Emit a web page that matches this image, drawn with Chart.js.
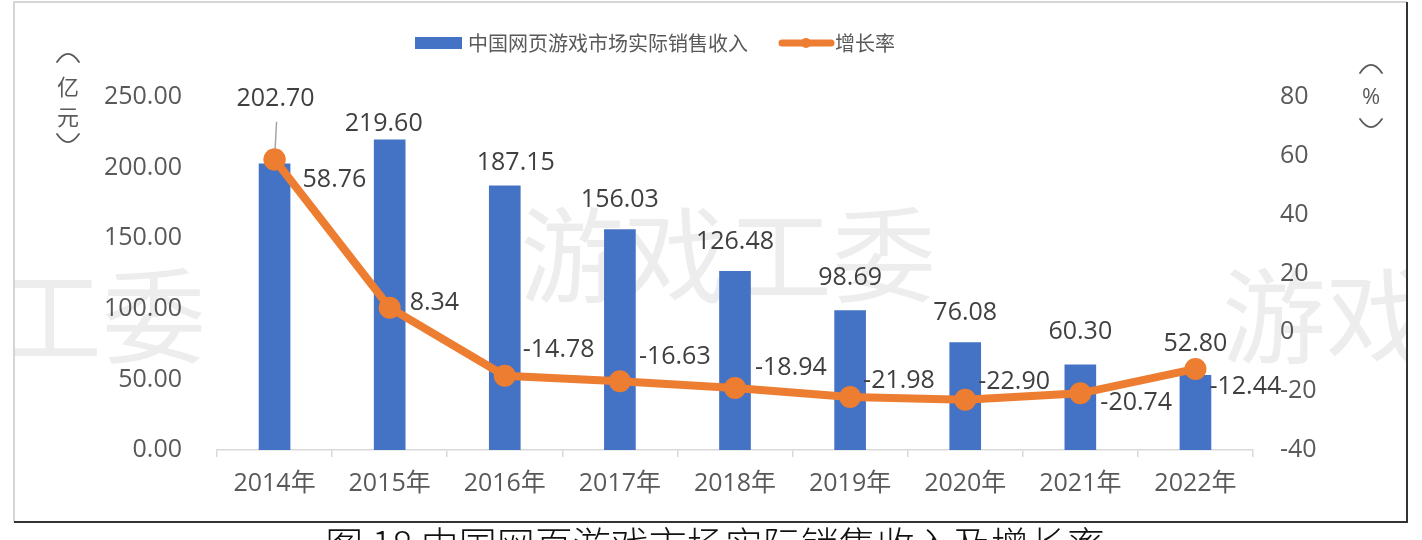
<!DOCTYPE html>
<html>
<head>
<meta charset="utf-8">
<title>中国网页游戏市场实际销售收入及增长率</title>
<script src="https://cdn.jsdelivr.net/npm/chart.js"></script>
<style>
    html, body { margin: 0; padding: 0; background: #fff; }
    #wrap { position: relative; width: 1422px; height: 540px; }
</style>
</head>
<body>
<div id="wrap"><canvas id="chart"></canvas></div>
<script>
// data
const years = ['2014年', '2015年', '2016年', '2017年', '2018年', '2019年', '2020年', '2021年', '2022年'];
const revenue = [202.70, 219.60, 187.15, 156.03, 126.48, 98.69, 76.08, 60.30, 52.80];
const growth = [58.76, 8.34, -14.78, -16.63, -18.94, -21.98, -22.90, -20.74, -12.44];
const revenueLabel = '中国网页游戏市场实际销售收入';
const growthLabel = '增长率';
const caption = '图 18 中国网页游戏市场实际销售收入及增长率';

// hand-placed label offsets (px), like the excel original
const barLabelGap = [65, 16, 23, 30, 30, 33, 30, 33, 32];
const barLabelDx = [1, -6, 11, 0, 0, 0, 0, 0, 0];
const lineLabelDx = [28, 20, 18, 19, 20, 13, 13, 20, 14];
const lineLabelDy = [20, -5, -26, -24, -20, -16, -18, 10, 18];

const BLUE = '#4472C4';
const ORANGE = '#ED7D31';
const FONT = "'Open Sans', 'Noto Sans CJK SC', sans-serif";
const CJK = "'Noto Sans CJK SC', sans-serif";

// vertical bracket arc (the ︵ / ︶ of vertical writing)
function bracket(ctx, x, yTop, up) {
    const w = 11, h = 9;
    ctx.beginPath();
    if (up) {
        ctx.moveTo(x - w, yTop + h);
        ctx.quadraticCurveTo(x, yTop - h * 0.8, x + w, yTop + h);
    } else {
        ctx.moveTo(x - w, yTop);
        ctx.quadraticCurveTo(x, yTop + h * 1.8, x + w, yTop);
    }
    ctx.stroke();
}

const decor = {
    id: 'decor',
    beforeDatasetsDraw(chart) {
        const ctx = chart.ctx;
        // watermark
        ctx.save();
        ctx.beginPath();
        ctx.rect(14, 2, 1393, 520);
        ctx.clip();
        ctx.fillStyle = 'rgba(0,0,0,0.07)';
        ctx.font = '104px ' + CJK;
        ctx.textBaseline = 'middle';
        ctx.textAlign = 'center';
        ctx.fillText('游戏工委', 728, 255);
        ctx.textAlign = 'right';
        ctx.fillText('游戏工委', 206, 316);
        ctx.textAlign = 'left';
        ctx.fillText('游戏工委', 1222, 316);
        ctx.restore();
    },
    afterDatasetsDraw(chart) {
        const ctx = chart.ctx;
        const bars = chart.getDatasetMeta(0).data;
        const pts = chart.getDatasetMeta(1).data;
        ctx.save();
        ctx.font = '25px ' + FONT;
        ctx.textBaseline = 'middle';

        // leader line for the first bar label
        ctx.strokeStyle = '#a6a6a6';
        ctx.lineWidth = 1.5;
        ctx.beginPath();
        ctx.moveTo(bars[0].x + 2, bars[0].y - barLabelGap[0] + 23);
        ctx.lineTo(pts[0].x, pts[0].y);
        ctx.stroke();
        ctx.fillStyle = ORANGE;
        ctx.beginPath();
        ctx.arc(pts[0].x, pts[0].y, 11, 0, Math.PI * 2);
        ctx.fill();

        ctx.fillStyle = '#404040';
        ctx.textAlign = 'center';
        bars.forEach((b, i) => {
            ctx.fillText(revenue[i].toFixed(2), b.x + barLabelDx[i], b.y - barLabelGap[i]);
        });
        ctx.textAlign = 'left';
        pts.forEach((p, i) => {
            ctx.fillText(growth[i].toFixed(2), p.x + lineLabelDx[i], p.y + lineLabelDy[i]);
        });
        ctx.restore();
    },
    afterDraw(chart) {
        const ctx = chart.ctx;
        ctx.save();

        // legend
        ctx.fillStyle = BLUE;
        ctx.fillRect(415, 37, 47, 12);
        ctx.font = '20px ' + CJK;
        ctx.fillStyle = '#595959';
        ctx.textBaseline = 'middle';
        ctx.textAlign = 'left';
        ctx.fillText(revenueLabel, 468, 43);
        ctx.strokeStyle = ORANGE;
        ctx.lineWidth = 7;
        ctx.lineCap = 'round';
        ctx.beginPath();
        ctx.moveTo(782, 43);
        ctx.lineTo(831, 43);
        ctx.stroke();
        ctx.fillStyle = ORANGE;
        ctx.beginPath();
        ctx.arc(806, 43, 5, 0, Math.PI * 2);
        ctx.fill();
        ctx.fillStyle = '#595959';
        ctx.fillText(growthLabel, 835, 43);

        // axis units, stacked upright
        ctx.strokeStyle = '#595959';
        ctx.lineWidth = 1.8;
        ctx.lineCap = 'round';
        ctx.font = '22px ' + CJK;
        ctx.textAlign = 'center';
        bracket(ctx, 68, 53, true);
        ctx.fillText('亿', 68, 87);
        ctx.fillText('元', 68, 117);
        bracket(ctx, 68, 134, false);
        bracket(ctx, 1371, 64, true);
        ctx.font = '22px ' + FONT;
        ctx.fillText('%', 1371, 98);
        bracket(ctx, 1371, 119, false);

        // frame
        ctx.lineCap = 'butt';
        ctx.lineWidth = 1.5;
        ctx.strokeStyle = '#c8c8c8';
        ctx.beginPath();
        ctx.moveTo(14, 522);
        ctx.lineTo(14, 2);
        ctx.lineTo(1407, 2);
        ctx.stroke();
        ctx.lineWidth = 2;
        ctx.strokeStyle = '#333';
        ctx.beginPath();
        ctx.moveTo(1407, 2);
        ctx.lineTo(1407, 522);
        ctx.lineTo(14, 522);
        ctx.stroke();

        // caption, cut off by the page edge
        ctx.fillStyle = '#111';
        ctx.font = '300 38px ' + CJK;
        ctx.textBaseline = 'top';
        ctx.textAlign = 'center';
        ctx.fillText(caption, 715, 526);
        ctx.restore();
    }
};

new Chart(document.getElementById('chart'), {
    data: {
        labels: years,
        datasets: [
            {
                type: 'bar',
                label: revenueLabel,
                data: revenue,
                backgroundColor: BLUE,
                barThickness: 31,
                yAxisID: 'y',
                order: 2
            },
            {
                type: 'line',
                label: growthLabel,
                data: growth,
                borderColor: ORANGE,
                backgroundColor: ORANGE,
                borderWidth: 8,
                pointRadius: 11,
                pointBackgroundColor: ORANGE,
                pointBorderWidth: 0,
                tension: 0,
                yAxisID: 'y1',
                order: 1
            }
        ]
    },
    options: {
        responsive: true,
        maintainAspectRatio: false,
        animation: false,
        layout: { padding: { top: 97, left: 0, right: 0, bottom: 0 } },
        plugins: {
            legend: { display: false },
            tooltip: { enabled: false }
        },
        scales: {
            x: {
                offset: true,
                grid: { offset: true, drawOnChartArea: false, drawTicks: true, tickLength: 7, color: '#d9d9d9', lineWidth: 1.5 },
                border: { display: true, color: '#d9d9d9', width: 1.5 },
                ticks: { color: '#595959', font: { size: 25, family: FONT }, padding: 12 },
                afterFit(s) { s.height = 90; }
            },
            y: {
                position: 'left',
                min: 0,
                max: 250,
                grid: { display: false, drawTicks: false },
                border: { display: false },
                ticks: {
                    stepSize: 50,
                    padding: 35,
                    color: '#595959',
                    font: { size: 25, family: FONT },
                    callback: v => v.toFixed(2)
                },
                afterFit(s) { s.width = 217; }
            },
            y1: {
                position: 'right',
                min: -40,
                max: 80,
                grid: { display: false, drawTicks: false },
                border: { display: false },
                ticks: {
                    stepSize: 20,
                    padding: 27,
                    color: '#595959',
                    font: { size: 25, family: FONT }
                },
                afterFit(s) { s.width = 169; }
            }
        }
    },
    plugins: [decor]
});
</script>
</body>
</html>
